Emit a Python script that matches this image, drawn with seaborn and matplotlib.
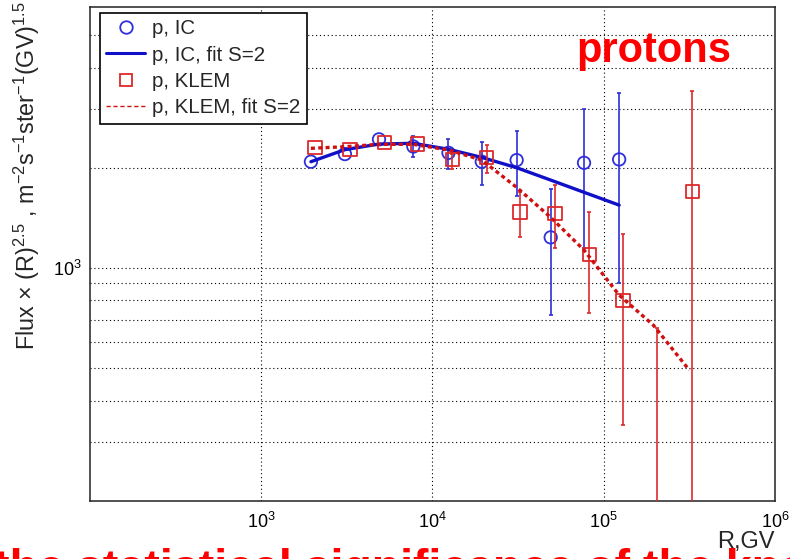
import numpy as np
import matplotlib
matplotlib.use('Agg')
import matplotlib.pyplot as plt
import matplotlib.ticker as ticker
from matplotlib.lines import Line2D
import seaborn as sns

# p, IC  (rigidity in GV, flux x R^2.5)
ic_r = [1950, 3080, 4870, 7730, 12400, 19400, 31000, 49000, 76700, 123000]
ic_flux = [2087, 2200, 2436, 2318, 2219, 2087, 2110, 1237, 2071, 2120]
ic_lo = [2087, 2200, 2436, 2150, 1980, 1775, 1646, 722, 1146, 900]
ic_hi = [2087, 2200, 2436, 2493, 2436, 2395, 2579, 1725, 3000, 3367]

# p, IC, fit S=2
ic_fit_r = [1950, 3080, 4870, 7730, 12400, 19400, 31000, 49000, 76700, 123000]
ic_fit = [2087, 2268, 2358, 2370, 2274, 2150, 2002, 1838, 1689, 1546]

# p, KLEM
klem_r = [2060, 3300, 5230, 8200, 13050, 20730, 32440, 51930, 82360, 129500, 205500, 328900]
klem_flux = [2299, 2274, 2380, 2358, 2122, 2145, 1474, 1460, 1102, 801, 150, 1696]
klem_lo = [2299, 2274, 2380, 2358, 1990, 1925, 1242, 1146, 731, 338, 50, 50]
klem_hi = [2299, 2274, 2380, 2358, 2200, 2342, 1696, 1775, 1474, 1265, 662, 3403]

# p, KLEM, fit S=2
klem_fit_r = [1950, 3080, 4870, 7730, 12400, 19400, 31000, 49000, 76700, 123000, 195000, 316000]
klem_fit = [2289, 2315, 2353, 2353, 2263, 2111, 1748, 1420, 1133, 830, 674, 494]

y_ticks = [300, 400, 500, 600, 700, 800, 900, 1000, 2000, 3000, 4000, 5000]
x_ticks = [1e3, 1e4, 1e5, 1e6]

W, H = 790, 559

sns.set_style('white')
plt.rcParams['font.family'] = ['Liberation Sans', 'DejaVu Sans']
plt.rcParams['mathtext.fontset'] = 'custom'
plt.rcParams['mathtext.rm'] = 'Liberation Sans'
plt.rcParams['mathtext.it'] = 'Liberation Sans:italic'
plt.rcParams['mathtext.bf'] = 'Liberation Sans:bold'

BLUE_M = '#2f2fdc'
BLUE_L = '#1010c8'
RED_M = '#dd2a2a'
RED_L = '#d01010'


def fx(px):
    return px / W


def fy(py):
    return 1 - py / H


fig = plt.figure(figsize=(W / 100, H / 100), dpi=100, facecolor='white')
ax = fig.add_axes([fx(90), fy(501), (775 - 90) / W, (501 - 7) / H], facecolor='white')
ax.set_xscale('log')
ax.set_yscale('log')


def draw_errors(r, v, lo, hi, color, z):
    r = np.array(r, float)
    v = np.array(v, float)
    lo = np.array(lo, float)
    hi = np.array(hi, float)
    m = hi > lo
    ax.errorbar(r[m], v[m], yerr=[v[m] - lo[m], hi[m] - v[m]], fmt='none',
                ecolor=color, elinewidth=1.2, capsize=1.6, capthick=1.2, zorder=z)


# IC data and fit
draw_errors(ic_r, ic_flux, ic_lo, ic_hi, BLUE_M, 2)
sns.scatterplot(x=ic_r, y=ic_flux, marker='o', s=80, facecolor='none',
                edgecolor=BLUE_M, linewidth=1.3, ax=ax, zorder=3)
sns.lineplot(x=ic_fit_r, y=ic_fit, color=BLUE_L, lw=2.4, sort=False, ax=ax, zorder=4)

# KLEM data and fit
draw_errors(klem_r, klem_flux, klem_lo, klem_hi, RED_M, 5)
sns.scatterplot(x=klem_r, y=klem_flux, marker='s', s=90, facecolor='none',
                edgecolor=RED_M, linewidth=1.3, ax=ax, zorder=6)
sns.lineplot(x=klem_fit_r, y=klem_fit, color=RED_L, lw=2.4, sort=False, ax=ax, zorder=7,
             linestyle=(0, (1.2, 1.0)))

ax.set_xlim(100, 1e6)
ax.set_ylim(200, 6080)

# ticks
ax.xaxis.set_major_locator(ticker.FixedLocator(x_ticks))
ax.xaxis.set_major_formatter(ticker.FuncFormatter(lambda v, p: r'$10^{%d}$' % round(np.log10(v))))
ax.xaxis.set_minor_locator(ticker.LogLocator(base=10, subs=np.arange(2, 10), numticks=30))
ax.xaxis.set_minor_formatter(ticker.NullFormatter())
ax.yaxis.set_major_locator(ticker.FixedLocator(y_ticks))
ax.yaxis.set_major_formatter(ticker.FuncFormatter(lambda v, p: r'$10^{3}$' if v == 1000 else ''))
ax.yaxis.set_minor_locator(ticker.NullLocator())

ax.tick_params(axis='both', which='both', direction='in', top=False, right=False,
               colors='black', labelsize=13, width=1.0)
ax.tick_params(axis='x', which='major', length=15, pad=8)
ax.tick_params(axis='x', which='minor', length=7.5)
ax.tick_params(axis='y', which='major', length=10, pad=6)

ax.grid(True, which='major', linestyle=(0, (1, 2.5)), color='black', linewidth=0.8)
ax.set_axisbelow(True)
for sp in ax.spines.values():
    sp.set_color('#222222')
    sp.set_linewidth(1.1)

ax.set_xlabel('')
ax.set_ylabel('')

# legend
handles = [
    Line2D([], [], ls='none', marker='o', mfc='none', mec=BLUE_M, ms=9, mew=1.3),
    Line2D([], [], color=BLUE_L, lw=2.2),
    Line2D([], [], ls='none', marker='s', mfc='none', mec=RED_M, ms=9, mew=1.3),
    Line2D([], [], color=RED_L, lw=1.0, ls=(0, (3, 2))),
]
labels = ['p, IC', 'p, IC, fit S=2', 'p, KLEM', 'p, KLEM, fit S=2']
leg = ax.legend(handles, labels, loc='upper left', bbox_to_anchor=(10 / 685, 1 - 6 / 494),
                borderaxespad=0, frameon=True, fancybox=False, edgecolor='black',
                fontsize=14.8, handlelength=1.9, labelspacing=0.36, borderpad=0.3,
                handletextpad=0.35, framealpha=1)
leg.get_frame().set_linewidth(1.2)

# texts
fig.text(fx(27), fy(1), u'Flux \u00d7 (R)$^{2.5}$ , m$^{-2}$s$^{-1}$ster$^{-1}$(GV)$^{1.5}$',
         rotation=90, ha='center', va='top', fontsize=16.8)
fig.text(fx(775), fy(553), 'R,GV', ha='right', va='bottom', fontsize=17)
fig.text(fx(654), fy(62), 'protons', color='red', fontweight='bold', fontsize=30,
         ha='center', va='baseline')
fig.text(fx(-6), fy(582), 'the statistical significance of the knee', color='red',
         fontweight='bold', fontsize=33.5, ha='left', va='baseline')

fig.savefig('out.png', dpi=100, facecolor='white')
